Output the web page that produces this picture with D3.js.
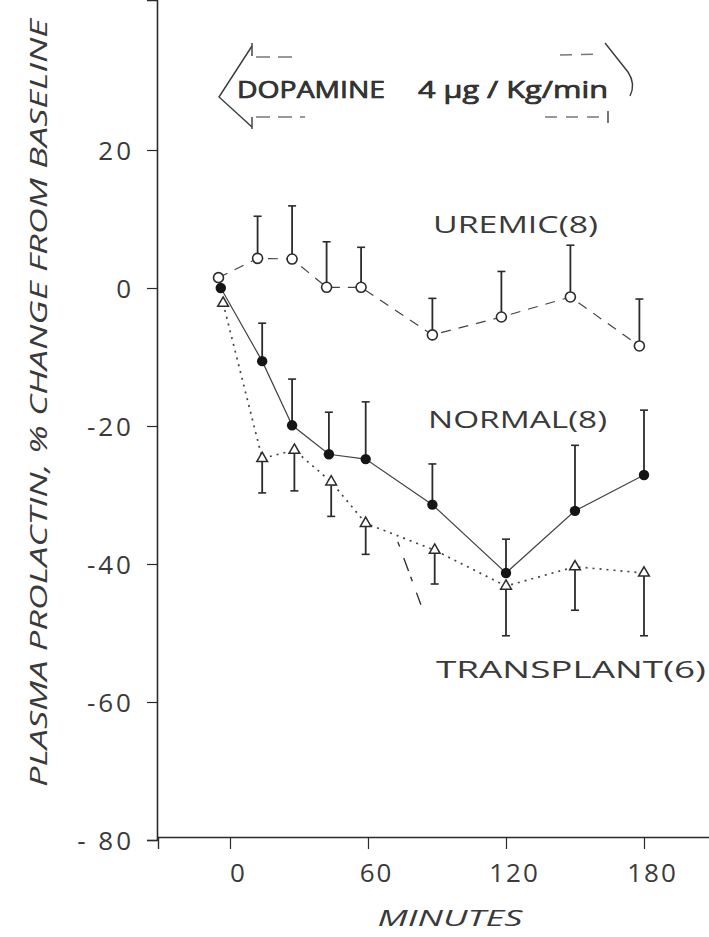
<!DOCTYPE html>
<html>
<head>
<meta charset="utf-8">
<script src="https://cdn.jsdelivr.net/npm/d3@7"></script>
<style>
  html, body { margin: 0; padding: 0; background: #fff; }
  svg { display: block; }
  text { font-family: "Open Sans", "DejaVu Sans", sans-serif; fill: #3a3a3a; }
</style>
</head>
<body>
<script>
// Sampling times (minutes) and mean % change in plasma prolactin, with SE
const uremicTimes = [-5, 12, 27, 42, 57, 88, 118, 148, 178];
const uremicValues = [1.5, 4.3, 4.2, 0.1, 0.1, -6.8, -4.2, -1.3, -8.4];
const uremicErrors = [0, 6.1, 7.7, 6.6, 5.8, 5.3, 6.6, 7.5, 6.8];

const normalTimes = [-4, 14, 27, 43, 59, 88, 120, 150, 180];
const normalValues = [0.0, -10.6, -19.9, -24.1, -24.8, -31.4, -41.3, -32.3, -27.1];
const normalErrors = [0, 5.5, 6.7, 6.1, 8.3, 5.9, 4.9, 9.5, 9.4];

const transplantTimes = [-3, 14, 28, 44, 59, 89, 120, 150, 180];
const transplantValues = [-2.2, -24.7, -23.5, -28.1, -34.1, -38.0, -43.2, -40.4, -41.3];
const transplantErrors = [0, 5.0, 5.9, 5.0, 4.5, 4.9, 7.2, 6.3, 9.1];

// short dash-dot stroke below the normal curve
const strayTimes = [73, 83];
const strayValues = [-36.8, -45.9];

const xTicks = [0, 60, 120, 180];
const yTicks = [20, 0, -20, -40, -60, -80];
const yTickLabels = ["20", "0", "-20", "-40", "-60", "- 80"];

const W = 709, H = 937;
const svg = d3.select("body").append("svg").attr("width", W).attr("height", H);

const x = d3.scaleLinear().domain([-31.3, 208.7]).range([158, 710]);
const y = d3.scaleLinear().domain([-80, 41.74]).range([840, 0]);
const ink = "#2b2b2b";

// Axes
const yAxis = d3.axisLeft(y).tickValues(yTicks).tickSize(10).tickPadding(13)
  .tickFormat((d, i) => yTickLabels[i]);
const gy = svg.append("g").attr("transform", `translate(${x.range()[0] - 1},0)`).call(yAxis);
gy.select(".domain").attr("stroke", ink).attr("stroke-width", 1.6);
gy.selectAll(".tick line").attr("stroke", ink).attr("stroke-width", 1.2);
gy.selectAll(".tick text").style("font-size", "26px").attr("fill", "#4a4a4a")
  .attr("font-family", "DejaVu Sans, sans-serif").attr("letter-spacing", 3)
  .attr("dy", "0.36em");

const xAxis = d3.axisBottom(x).tickValues(xTicks).tickSize(12).tickPadding(15);
const gx = svg.append("g").attr("transform", `translate(0,${y(-80) - 3})`).call(xAxis);
gx.select(".domain").attr("stroke", ink).attr("stroke-width", 1.4);
gx.selectAll(".tick line").attr("stroke", ink).attr("stroke-width", 1.2);
gx.selectAll(".tick text").style("font-size", "26px").attr("fill", "#4a4a4a")
  .attr("font-family", "DejaVu Sans, sans-serif").attr("letter-spacing", 2)
  .attr("dx", 8);

// Axis titles
svg.append("text")
  .attr("transform", "translate(47,403) rotate(-90)")
  .attr("text-anchor", "middle")
  .attr("font-style", "italic")
  .attr("textLength", 768).attr("lengthAdjust", "spacingAndGlyphs")
  .style("font-size", "24px").attr("fill", "#444")
  .text("PLASMA PROLACTIN, % CHANGE FROM BASELINE");

svg.append("text")
  .attr("x", 450).attr("y", 926)
  .attr("text-anchor", "middle")
  .attr("font-style", "italic")
  .attr("textLength", 145).attr("lengthAdjust", "spacingAndGlyphs")
  .style("font-size", "22px").attr("fill", "#444")
  .text("MINUTES");

// Series
const series = [
  { t: uremicTimes, v: uremicValues, e: uremicErrors, dir: 1, dash: "10,8", mark: "open" },
  { t: normalTimes, v: normalValues, e: normalErrors, dir: 1, dash: null, mark: "filled" },
  { t: transplantTimes, v: transplantValues, e: transplantErrors, dir: -1, dash: "2,5", mark: "triangle" }
];

const line = d3.line().x(d => x(d[0])).y(d => y(d[1]));

series.forEach(s => {
  const pts = s.t.map((t, i) => [t, s.v[i], s.e[i]]);
  svg.append("path")
    .datum(pts)
    .attr("d", line)
    .attr("fill", "none")
    .attr("stroke", "#444")
    .attr("stroke-width", s.mark === "triangle" ? 1.7 : 1.2)
    .attr("stroke-dasharray", s.dash);

  const eb = svg.append("g");
  pts.filter(p => p[2] > 0).forEach(p => {
    const y0 = y(p[1]), y1 = y(p[1] + s.dir * p[2]);
    eb.append("line").attr("x1", x(p[0])).attr("x2", x(p[0]))
      .attr("y1", y0).attr("y2", y1)
      .attr("stroke", ink).attr("stroke-width", 1.8);
    eb.append("line").attr("x1", x(p[0]) - 4).attr("x2", x(p[0]) + 4)
      .attr("y1", y1).attr("y2", y1)
      .attr("stroke", ink).attr("stroke-width", 1.6);
  });

  const mg = svg.append("g");
  pts.forEach(p => {
    if (s.mark === "open") {
      mg.append("circle").attr("cx", x(p[0])).attr("cy", y(p[1])).attr("r", 5)
        .attr("fill", "#fff").attr("stroke", ink).attr("stroke-width", 1.6);
    } else if (s.mark === "filled") {
      mg.append("circle").attr("cx", x(p[0])).attr("cy", y(p[1])).attr("r", 5.2)
        .attr("fill", "#151515");
    } else {
      mg.append("path")
        .attr("transform", `translate(${x(p[0])},${y(p[1])})`)
        .attr("d", d3.symbol(d3.symbolTriangle, 50)())
        .attr("fill", "#fff").attr("stroke", ink).attr("stroke-width", 1.5);
    }
  });
});

svg.append("path")
  .datum(strayTimes.map((t, i) => [t, strayValues[i]]))
  .attr("d", line)
  .attr("fill", "none").attr("stroke", "#333").attr("stroke-width", 1.4)
  .attr("stroke-dasharray", "5,12,14,6");

// Group labels
const labels = [
  { text: "UREMIC(8)", x: 433, y: 233, len: 165 },
  { text: "NORMAL(8)", x: 428, y: 428, len: 179 },
  { text: "TRANSPLANT(6)", x: 436, y: 678, len: 270 }
];
labels.forEach(l => {
  svg.append("text").attr("x", l.x).attr("y", l.y)
    .attr("textLength", l.len).attr("lengthAdjust", "spacingAndGlyphs")
    .style("font-size", "23px").attr("fill", "#444")
    .text(l.text);
});

// Infusion period arrow
const arrow = svg.append("g").attr("fill", "none").attr("stroke", "#3a3a3a").attr("stroke-width", 1.4);
arrow.append("path").attr("d", "M252,46 L219,97 L252,127");
arrow.append("path").attr("d", "M252,43 L252,56 M252,117 L252,129");
arrow.append("path").attr("d", "M256,57 L300,57 M256,117 L305,117").attr("stroke-dasharray", "14,8").attr("stroke", "#777");
arrow.append("path").attr("d", "M605,43 L628,72 Q636,84 630,96");
arrow.append("path").attr("d", "M608,111 L608,123");
arrow.append("path").attr("d", "M560,55 L600,54 M545,117 L605,117").attr("stroke-dasharray", "12,9").attr("stroke", "#777");

svg.append("text").attr("x", 237).attr("y", 98)
  .attr("textLength", 148).attr("lengthAdjust", "spacingAndGlyphs")
  .style("font-size", "23px").attr("fill", "#222")
  .attr("stroke", "#222").attr("stroke-width", 0.7)
  .text("DOPAMINE");
svg.append("text").attr("x", 418).attr("y", 98)
  .attr("textLength", 190).attr("lengthAdjust", "spacingAndGlyphs")
  .style("font-size", "23px").attr("fill", "#222")
  .attr("stroke", "#222").attr("stroke-width", 0.7)
  .text("4 μg / Kg/min");
</script>
</body>
</html>
